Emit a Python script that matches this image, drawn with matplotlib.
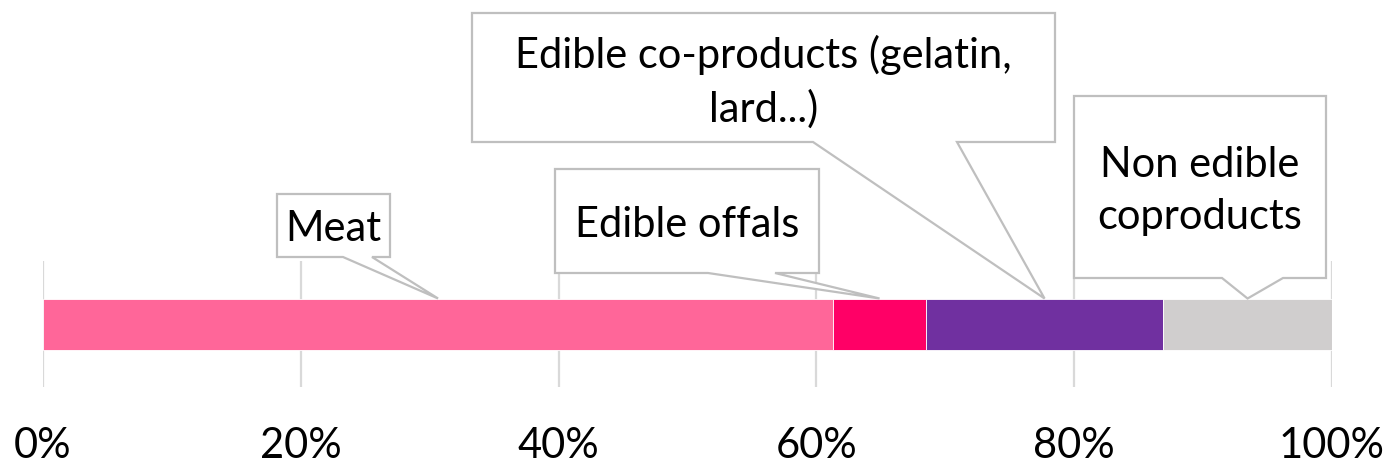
import numpy as np
import matplotlib.pyplot as plt
from matplotlib.patches import Polygon

plt.rcParams['font.family'] = ['Lato', 'DejaVu Sans']

# Дані
categories = ['Meat', 'Edible offals', 'Edible co-products (gelatin,\nlard...)',
              'Non edible\ncoproducts']
values = [61.3, 7.2, 18.4, 13.1]
colors = ['#FF6699', '#FF0066', '#7030A0', '#D0CECE']
ticks = [0, 20, 40, 60, 80, 100]
tick_labels = ['0%', '20%', '40%', '60%', '80%', '100%']

W, H = 1388, 464
fig = plt.figure(figsize=(W / 100, H / 100), dpi=100)

# Осі в пікселях (зверху вниз)
ax_l, ax_r, ax_t, ax_b = 43, 1332, 262, 388
ax = fig.add_axes([ax_l / W, 1 - ax_b / H, (ax_r - ax_l) / W, (ax_b - ax_t) / H])

bar_h = 51 / 126
lefts = np.concatenate([[0], np.cumsum(values)[:-1]])
ax.barh([0] * len(values), values, left=lefts, height=bar_h, color=colors,
        edgecolor='white', linewidth=0.6, zorder=3)

ax.set_xlim(0, 100)
ax.set_ylim(-0.5, 0.5)
ax.set_xticks(ticks)
ax.set_xticklabels(tick_labels, fontsize=30)
ax.set_yticks([])
ax.tick_params(axis='x', length=0, pad=28)
ax.grid(axis='x', color='#D9D9D9', linewidth=1.6, zorder=0)
for s in ax.spines.values():
    s.set_visible(False)

# Рамки виносок: (ліво, право, верх, низ, основа1, основа2) в пікселях
boxes = [
    (277, 390, 195, 258, 343, 372),
    (555, 819, 170, 274, 708, 775),
    (472, 1055, 14, 143, 813, 957),
    (1074, 1326, 97, 279, 1222, 1283),
]


def px(x, y):
    return x / W, 1 - y / H


inv = fig.transFigure.inverted()
for cat, v, l, b in zip(categories, values, lefts, boxes):
    x0, x1, y0, y1, b1, b2 = b
    tip = inv.transform(ax.transData.transform((l + v / 2, bar_h / 2)))
    pts = [px(x0, y0), px(x1, y0), px(x1, y1), px(b2, y1), tuple(tip),
           px(b1, y1), px(x0, y1)]
    fig.add_artist(Polygon(pts, closed=True, transform=fig.transFigure,
                           facecolor='white', edgecolor='#BFBFBF',
                           linewidth=1.6, zorder=5))
    cx, cy = px((x0 + x1) / 2, (y0 + y1) / 2 + 3)
    fig.text(cx, cy, cat, ha='center', va='center', fontsize=30,
             linespacing=1.45, zorder=6)

fig.savefig('out.png', dpi=100)
